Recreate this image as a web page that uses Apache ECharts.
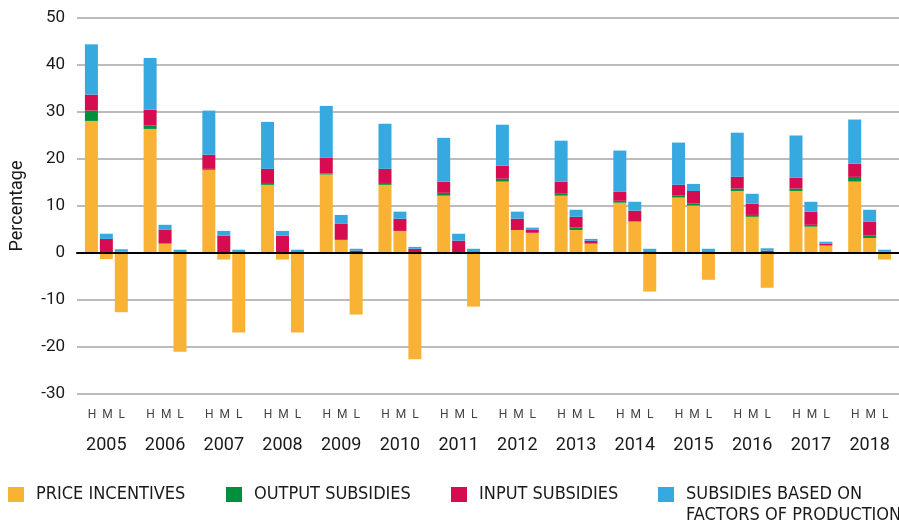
<!DOCTYPE html>
<html>
<head>
<meta charset="utf-8">
<script src="https://cdn.jsdelivr.net/npm/echarts@6/dist/echarts.min.js"></script>
<style>
html,body{margin:0;padding:0;background:#fff;}
#chart{width:899px;height:521px;}
</style>
</head>
<body>
<div id="chart"></div>
<script>
const years = ['2005','2006','2007','2008','2009','2010','2011','2012','2013','2014','2015','2016','2017','2018'];
const seriesNames = ['PRICE INCENTIVES','OUTPUT SUBSIDIES','INPUT SUBSIDIES','SUBSIDIES BASED ON FACTORS OF PRODUCTION'];
const yTicks = {min: -30, max: 50, interval: 10};

// H group
const priceH   = [28.1, 26.4, 17.7, 14.5, 16.7, 14.5, 12.2, 15.2, 12.2, 10.7, 11.8, 13.2, 13.2, 15.2];
const outputH  = [2.2, 0.7, 0.2, 0.4, 0.2, 0.4, 0.6, 0.6, 0.4, 0.4, 0.4, 0.5, 0.5, 1.0];
const inputH   = [3.4, 3.4, 3.0, 3.0, 3.4, 3.0, 2.4, 2.8, 2.6, 1.9, 2.3, 2.5, 2.3, 2.8];
const factorsH = [10.7, 11.0, 9.4, 10.0, 11.0, 9.6, 9.3, 8.7, 8.7, 8.8, 9.0, 9.4, 9.0, 9.4];
// M group
const priceM   = [-1.3, 2.0, -1.4, -1.4, 2.8, 4.7, 0, 4.9, 4.9, 6.7, 10.1, 7.7, 5.6, 3.2];
const outputM  = [0.2, 0, 0.1, 0.1, 0, 0, 0, 0, 0.5, 0, 0.4, 0.4, 0.4, 0.5];
const inputM   = [2.8, 3.0, 3.6, 3.6, 3.4, 2.6, 2.6, 2.4, 2.3, 2.3, 2.7, 2.4, 2.8, 3.0];
const factorsM = [1.1, 1.0, 1.0, 1.0, 1.9, 1.5, 1.5, 1.5, 1.5, 1.9, 1.5, 2.1, 2.1, 2.5];
// L group
const priceL   = [-12.6, -21.0, -16.9, -16.9, -13.1, -22.6, -11.4, 4.3, 2.0, -8.2, -5.7, -7.4, 1.6, -1.4];
const outputL  = [0.1, 0, 0, 0, 0, 0, 0.3, 0, 0, 0.3, 0.3, 0.1, 0, 0.1];
const inputL   = [0.2, 0.2, 0.2, 0.2, 0.5, 0.9, 0.1, 0.6, 0.6, 0.1, 0.1, 0.4, 0.4, 0.2];
const factorsL = [0.5, 0.5, 0.5, 0.5, 0.4, 0.4, 0.5, 0.5, 0.4, 0.5, 0.5, 0.5, 0.4, 0.4];

const colors = ['#F9B234', '#008F3C', '#D70C50', '#36A9E1'];
const groups = {
  H: [priceH, outputH, inputH, factorsH],
  M: [priceM, outputM, inputM, factorsM],
  L: [priceL, outputL, inputL, factorsL]
};

const series = [];
['H','M','L'].forEach(function (g) {
  groups[g].forEach(function (arr, i) {
    series.push({
      name: seriesNames[i],
      type: 'bar',
      stack: g,
      data: arr,
      barWidth: 13,
      barGap: '15%',
      itemStyle: {color: colors[i]},
      emphasis: {disabled: true}
    });
  });
});

const legendFont = "'Liberation Sans Narrow', 'DejaVu Sans Condensed', sans-serif";
const legendText = {fontFamily: legendFont, fontSize: 18, color: '#1a1a1a', lineHeight: 22, padding: [0, 0, 0, 7]};
function legendItem(name, left, top, extra) {
  return Object.assign({
    data: [name],
    left: left,
    top: top,
    padding: 0,
    itemWidth: 16,
    itemHeight: 15,
    icon: 'rect',
    selectedMode: false,
    textStyle: legendText
  }, extra || {});
}

const chart = echarts.init(document.getElementById('chart'), null, {renderer: 'canvas'});
chart.setOption({
  animation: false,
  color: colors,
  grid: {left: 76, right: -4, top: 18, bottom: 127, containLabel: false},
  legend: [
    legendItem(seriesNames[0], 8, 483.5),
    legendItem(seriesNames[1], 226, 483.5),
    legendItem(seriesNames[2], 451, 483.5),
    legendItem(seriesNames[3], 658, 483.5, {
      formatter: function () { return 'SUBSIDIES BASED ON'; }
    })
  ],
  graphic: [{
    type: 'text',
    left: 686,
    top: 504,
    silent: true,
    style: {text: 'FACTORS OF PRODUCTION', fontFamily: legendFont, fontSize: 18, fill: '#1a1a1a', lineHeight: 22}
  }],
  xAxis: [
    {
      type: 'category',
      data: years,
      position: 'bottom',
      axisLine: {show: false, onZero: false},
      axisTick: {show: false},
      axisLabel: {
        interval: 0,
        margin: 10,
        formatter: function (v) { return '{a|H  M  L}\n{b|' + v + '}'; },
        rich: {
          a: {fontFamily: 'Roboto', fontSize: 12, color: '#444', lineHeight: 22},
          b: {fontFamily: 'Roboto', fontSize: 18, color: '#1a1a1a', lineHeight: 38}
        }
      }
    },
    {
      type: 'category',
      data: years,
      position: 'bottom',
      z: 10,
      axisLine: {show: true, onZero: true, lineStyle: {color: '#000', width: 2}},
      axisTick: {show: false},
      axisLabel: {show: false},
      splitLine: {show: false}
    }
  ],
  yAxis: {
    type: 'value',
    min: yTicks.min,
    max: yTicks.max,
    interval: yTicks.interval,
    name: 'Percentage',
    nameLocation: 'middle',
    nameRotate: 90,
    nameGap: 51,
    nameTextStyle: {fontFamily: 'Roboto', fontSize: 18, color: '#1a1a1a'},
    axisLine: {show: false},
    axisTick: {show: false},
    axisLabel: {margin: 12, fontFamily: 'Roboto', fontSize: 17, color: '#1a1a1a'},
    splitLine: {lineStyle: {color: '#a6a6a6', width: 1.5}}
  },
  series: series
});
</script>
</body>
</html>
